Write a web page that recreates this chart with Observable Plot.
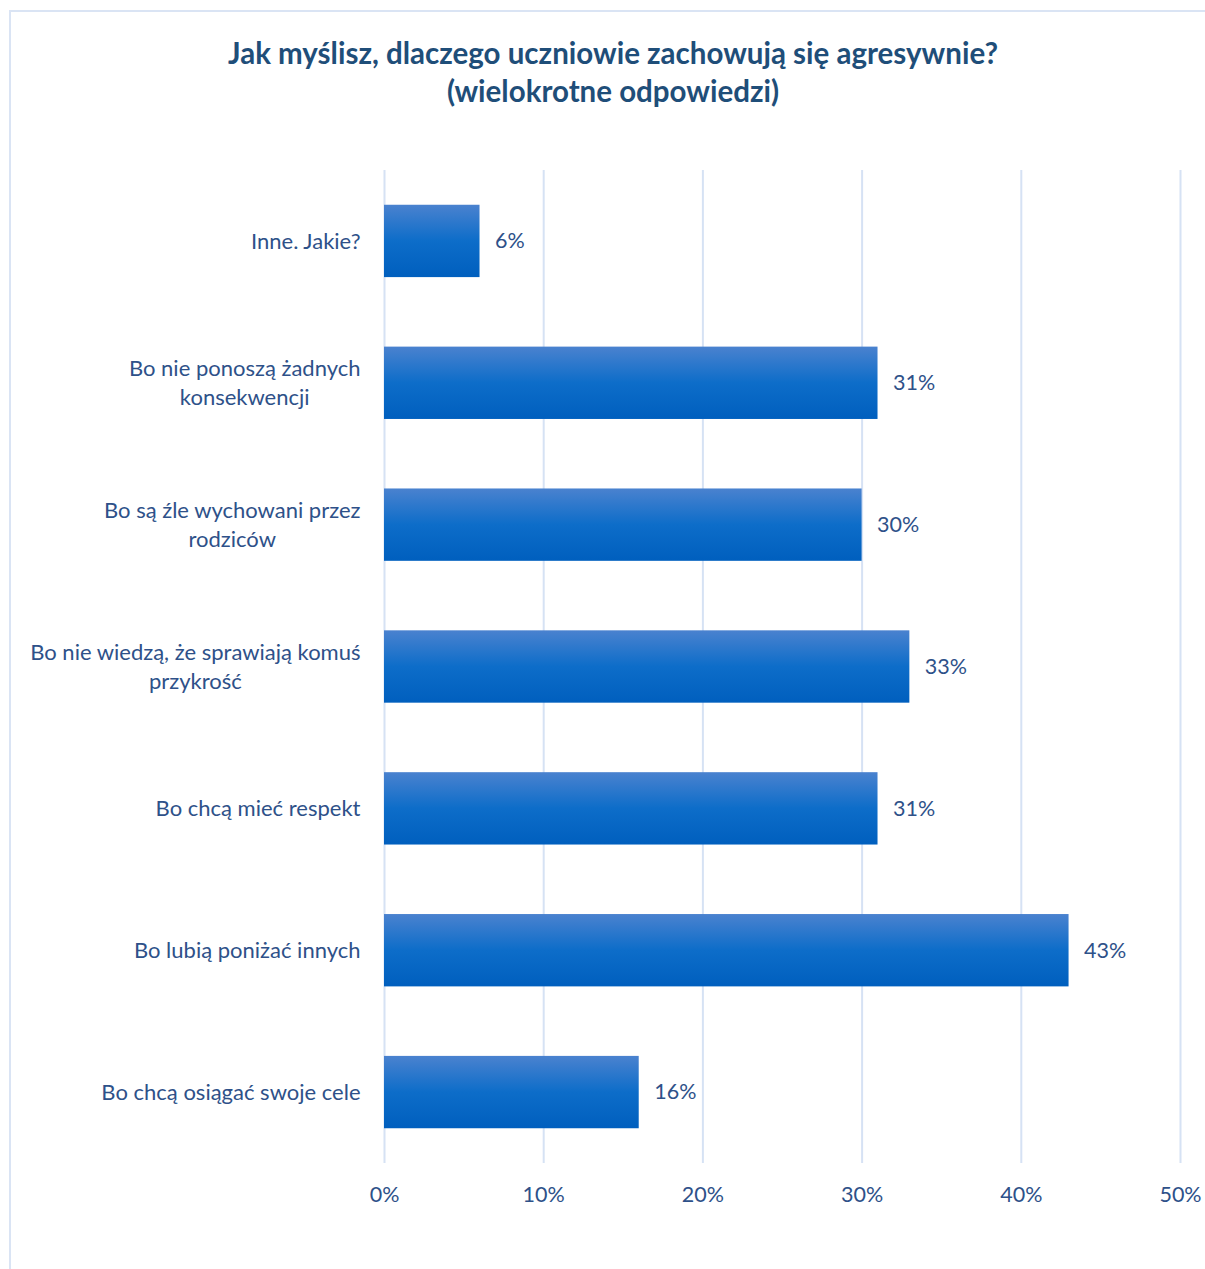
<!DOCTYPE html>
<html>
<head>
<meta charset="utf-8">
<script src="https://cdn.jsdelivr.net/npm/d3@7"></script>
<script src="https://cdn.jsdelivr.net/npm/@observablehq/plot@0.6"></script>
<style>
  html, body { margin: 0; padding: 0; background: #fff; }
  #wrap { position: relative; width: 1205px; height: 1269px; overflow: hidden; font-family: Lato, "Open Sans", sans-serif; }
  #frame { position: absolute; left: 9px; top: 10px; width: 1300px; height: 1400px; border: 2px solid #dae4f4; box-sizing: border-box; }
  #title { position: absolute; left: 0; top: 34px; width: 1226px; text-align: center; font-weight: 700; font-size: 29.5px; line-height: 38px; color: #1f4e79; }
  #chart { position: absolute; left: 0; top: 0; }
</style>
</head>
<body>
<div id="wrap">
  <div id="frame"></div>
  <div id="chart"></div>
  <div id="title">Jak myślisz, dlaczego uczniowie zachowują się agresywnie?<br>(wielokrotne odpowiedzi)</div>
</div>
<script>
const categories = [
  "Inne. Jakie?",
  "Bo nie ponoszą żadnych\nkonsekwencji",
  "Bo są źle wychowani przez\nrodziców",
  "Bo nie wiedzą, że sprawiają komuś\nprzykrość",
  "Bo chcą mieć respekt",
  "Bo lubią poniżać innych",
  "Bo chcą osiągać swoje cele"
];
const values = [6, 31, 30, 33, 31, 43, 16];
const xTicks = [0, 10, 20, 30, 40, 50];

const data = categories.map((c, i) => ({category: c, value: values[i]}));
const textColor = "#2e5189";

const plot = Plot.plot({
  width: 1205,
  height: 1269,
  marginTop: 170,
  marginBottom: 106,
  marginLeft: 384,
  marginRight: 25,
  style: {fontFamily: "Lato, 'Open Sans', sans-serif", background: "transparent"},
  x: {domain: [0, 50], ticks: xTicks},
  y: {domain: categories, paddingInner: 0.49, paddingOuter: 0.245, round: false},
  marks: [
    () => {
      const defs = d3.create("svg:defs");
      const g = defs.append("linearGradient").attr("id", "barGrad")
        .attr("x1", 0).attr("y1", 0).attr("x2", 0).attr("y2", 1);
      g.append("stop").attr("offset", "0%").attr("stop-color", "#4a82cf");
      g.append("stop").attr("offset", "50%").attr("stop-color", "#0d6dc9");
      g.append("stop").attr("offset", "100%").attr("stop-color", "#005fbe");
      return defs.node();
    },
    Plot.gridX(xTicks, {stroke: "#d6e2f4", strokeWidth: 2, strokeOpacity: 1}),
    Plot.barX(data, {x: "value", y: "category", fill: "url(#barGrad)"}),
    Plot.text(data, {x: "value", y: "category", text: d => d.value + "%", textAnchor: "start", dx: 15, fontSize: 21.5, fill: textColor}),
    Plot.axisX(xTicks, {tickSize: 0, tickPadding: 23, tickFormat: d => d + "%", fontSize: 21.5, fill: textColor, label: null}),
    Plot.axisY({tickSize: 0, tickPadding: 24, dy: -2, fontSize: 22, fill: textColor, lineHeight: 1.32, label: null})
  ]
});

document.getElementById("chart").appendChild(plot);

// center wrapped lines of category labels (right-aligned block, centered lines)
d3.select(plot).selectAll('g[aria-label="y-axis tick label"] text').each(function() {
  const w = this.getBBox().width;
  this.setAttribute("text-anchor", "middle");
  this.setAttribute("transform", (this.getAttribute("transform") || "") + ` translate(${-w / 2},0)`);
});
</script>
</body>
</html>
